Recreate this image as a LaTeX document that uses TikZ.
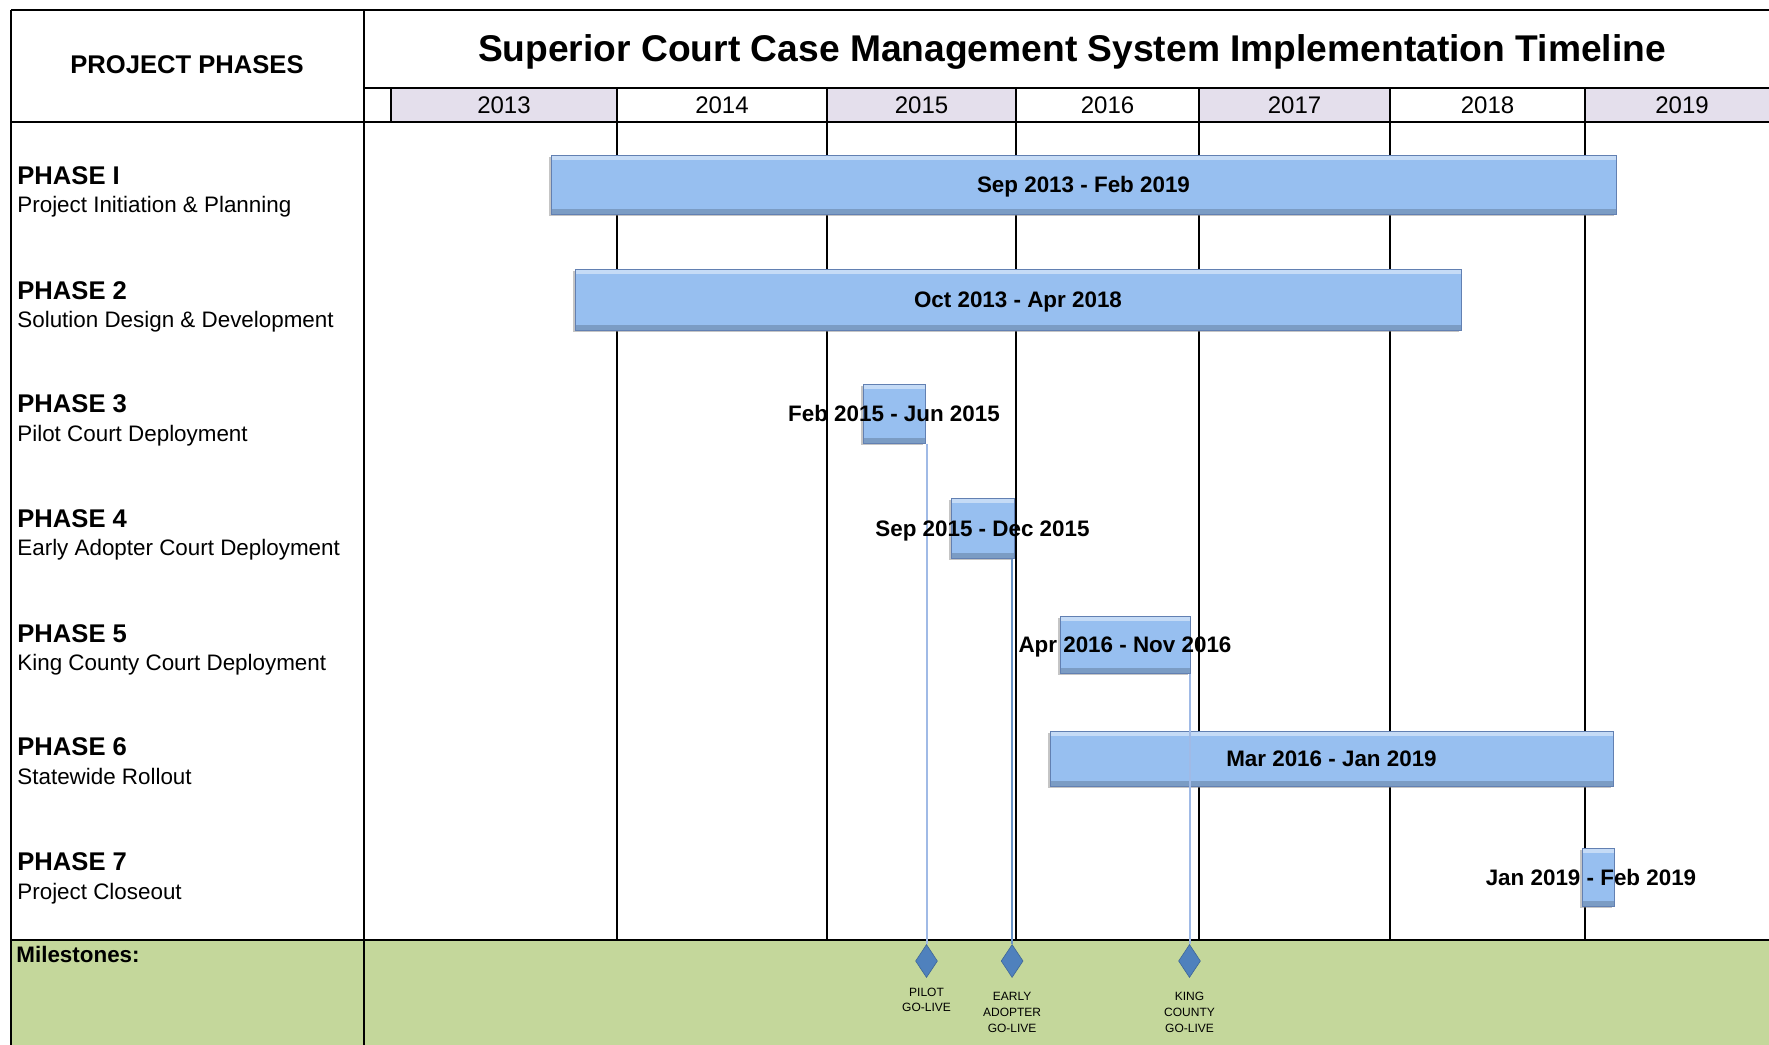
\documentclass[tikz,border=0pt]{standalone}
\usepackage{fontspec}
\setmainfont{Liberation Sans}
\usepackage{tikz}
\usetikzlibrary{positioning, fit, shapes.geometric, shadows}
\definecolor{cBar}{RGB}{151,191,240}
\definecolor{cBarD}{RGB}{98,128,178}
\definecolor{cYear}{RGB}{228,223,236}
\definecolor{cMs}{RGB}{196,215,155}
\definecolor{cDia}{RGB}{79,129,189}
\definecolor{cLine}{RGB}{160,186,230}

\tikzset{
  tline/.style={line width=1.1pt, draw=black},
  yearcell/.style={rectangle, inner sep=0pt},
  yearlbl/.style={font=\fontsize{12}{14}\selectfont},
  bar/.style={rectangle, inner sep=0pt, fill=cBar, draw=cBarD, line width=0.5pt,
    drop shadow={shadow xshift=-1pt, shadow yshift=-1pt, fill=black!45, opacity=.5},
    path picture={
      \fill[white, opacity=.45] (path picture bounding box.north west) rectangle ([yshift=-2.5pt]path picture bounding box.north east);
      \fill[black, opacity=.18] ([yshift=2.5pt]path picture bounding box.south west) rectangle (path picture bounding box.south east);
    }},
  barlbl/.style={anchor=base, yshift=-4pt, font=\fontsize{11.2}{13}\selectfont\bfseries},
  phasettl/.style={anchor=base west, inner sep=0pt, font=\fontsize{12.8}{15}\selectfont\bfseries},
  phasesub/.style={anchor=base west, inner sep=0pt, font=\fontsize{11.2}{13}\selectfont},
  msdia/.style={diamond, fill=cDia, draw=cDia!80!black, line width=0.3pt, minimum width=11pt, minimum height=16.5pt, inner sep=0pt},
  msline/.style={draw=cLine, line width=1pt},
  mslbl/.style={align=center, inner sep=0pt, font=\fontsize{6}{7.8}\selectfont}
}

\begin{document}
\begin{tikzpicture}[x=0.5pt, y=-0.5pt]
    \clip (0,0) rectangle (1769,1045);

    % Milestone band
    \fill[cMs] (11,940) rectangle (1790,1060);

    % Header texts
    \node[anchor=base, font=\fontsize{12.8}{15}\selectfont\bfseries] (hdr) at (187,73) {PROJECT PHASES};
    \node[anchor=base, font=\fontsize{18.6}{22}\selectfont\bfseries] (title) at (1072,61) {Superior Court Case Management System Implementation Timeline};

    % Year cells
    \node[yearcell, fill=cYear, fit={(391,88) (617,122)}] (y13) {};
    \node[yearcell, fit={(617,88) (827,122)}] (y14) {};
    \node[yearcell, fill=cYear, fit={(827,88) (1016,122)}] (y15) {};
    \node[yearcell, fit={(1016,88) (1199,122)}] (y16) {};
    \node[yearcell, fill=cYear, fit={(1199,88) (1390,122)}] (y17) {};
    \node[yearcell, fit={(1390,88) (1585,122)}] (y18) {};
    \node[yearcell, fill=cYear, fit={(1585,88) (1779,122)}] (y19) {};
    \node[yearlbl] (y13lbl) at (y13.center) {2013};
    \node[yearlbl] (y14lbl) at (y14.center) {2014};
    \node[yearlbl] (y15lbl) at (y15.center) {2015};
    \node[yearlbl] (y16lbl) at (y16.center) {2016};
    \node[yearlbl] (y17lbl) at (y17.center) {2017};
    \node[yearlbl] (y18lbl) at (y18.center) {2018};
    \node[yearlbl] (y19lbl) at (y19.center) {2019};

    % Table lines
    \draw[tline] (11,10) -- (1779,10) -- (1779,1060);
    \draw[tline] (11,10) -- (11,1060);
    \draw[tline] (364,10) -- (364,1060);
    \draw[tline] (364,88) -- (1779,88);
    \draw[tline] (11,122) -- (1779,122);
    \draw[tline] (11,940) -- (1779,940);
    \draw[tline] (391,88) -- (391,122);
    \foreach \x in {617,827,1016,1199,1390,1585}
        \draw[tline] (\x,88) -- (\x,940);

    % Phase names
    \node[phasettl] (ph1) at (17,184) {PHASE I};
    \node[phasesub] (ph1sub) at (17,212) {Project Initiation \& Planning};
    \node[phasettl] (ph2) at (17,299) {PHASE 2};
    \node[phasesub] (ph2sub) at (17,327) {Solution Design \& Development};
    \node[phasettl] (ph3) at (17,412) {PHASE 3};
    \node[phasesub] (ph3sub) at (17,441) {Pilot Court Deployment};
    \node[phasettl] (ph4) at (17,527) {PHASE 4};
    \node[phasesub] (ph4sub) at (17,555) {Early Adopter Court Deployment};
    \node[phasettl] (ph5) at (17,642) {PHASE 5};
    \node[phasesub] (ph5sub) at (17,670) {King County Court Deployment};
    \node[phasettl] (ph6) at (17,755) {PHASE 6};
    \node[phasesub] (ph6sub) at (17,784) {Statewide Rollout};
    \node[phasettl] (ph7) at (17,870) {PHASE 7};
    \node[phasesub] (ph7sub) at (17,899) {Project Closeout};

    % Phase bars
    \node[bar, fit={(551,155) (1616,214)}] (p1bar) {};
    \node[bar, fit={(575,269) (1461,330)}] (p2bar) {};
    \node[bar, fit={(863,384) (925,443)}] (p3bar) {};
    \node[bar, fit={(951,498) (1014,558)}] (p4bar) {};
    \node[bar, fit={(1060,616) (1190,673)}] (p5bar) {};
    \node[bar, fit={(1050,731) (1613,786)}] (p6bar) {};
    \node[bar, fit={(1582,848) (1614,906)}] (p7bar) {};

    % Milestones
    \node[anchor=base west, inner sep=0pt, font=\fontsize{11.2}{13}\selectfont\bfseries] (mslab) at (16,962) {Milestones:};
    \coordinate (msrow) at (0,961);
    \coordinate (ms1top) at ([xshift=0.5pt]p3bar.south east);
    \coordinate (ms2top) at ([xshift=-1.2pt]p4bar.south east);
    \coordinate (ms3top) at ([xshift=-0.5pt]p5bar.south east);
    \node[msdia] (ms1) at (ms1top |- msrow) {};
    \node[msdia] (ms2) at (ms2top |- msrow) {};
    \node[msdia] (ms3) at (ms3top |- msrow) {};
    \draw[msline] (ms1top) -- (ms1.north);
    \draw[msline, draw=cDia!85] (ms2top) -- (ms2.north);
    \draw[msline] (ms3top) -- (ms3.north);
    \node[mslbl, anchor=north, below=4.8pt of ms1] (ms1txt) {PILOT\\GO-LIVE};
    \node[mslbl, anchor=north, below=7.2pt of ms2] (ms2txt) {EARLY\\ADOPTER\\GO-LIVE};
    \node[mslbl, anchor=north, below=7.2pt of ms3] (ms3txt) {KING\\COUNTY\\GO-LIVE};

    % Bar labels
    \node[barlbl] (p1lbl) at (p1bar.center) {Sep 2013 - Feb 2019};
    \node[barlbl] (p2lbl) at (p2bar.center) {Oct 2013 - Apr 2018};
    \node[barlbl] (p3lbl) at (p3bar.center) {Feb 2015 - Jun 2015};
    \node[barlbl] (p4lbl) at (p4bar.center) {Sep 2015 - Dec 2015};
    \node[barlbl] (p5lbl) at (p5bar.center) {Apr 2016 - Nov 2016};
    \node[barlbl] (p6lbl) at (p6bar.center) {Mar 2016 - Jan 2019};
    \node[barlbl, xshift=-3.5pt] (p7lbl) at (p7bar.center) {Jan 2019 - Feb 2019};
\end{tikzpicture}
\end{document}
